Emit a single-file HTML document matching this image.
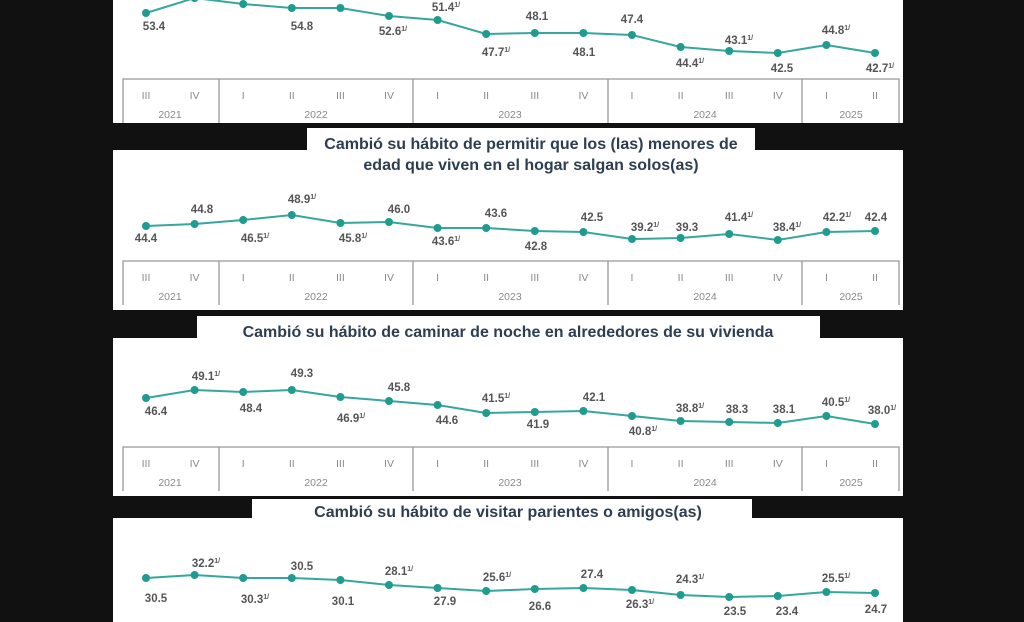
<!DOCTYPE html>
<html><head><meta charset="utf-8"><style>
html,body{margin:0;padding:0;background:#111;}
svg{display:block;}
.l{font:bold 11.5px "Liberation Sans",sans-serif;fill:#555;text-anchor:middle;}
.s{font-size:7px;}
.t{font:bold 16px "Liberation Sans",sans-serif;fill:#2c3e50;text-anchor:middle;}
.a{font:10.5px "Liberation Sans",sans-serif;fill:#888;text-anchor:middle;}
.ln{fill:none;stroke:#35a79d;stroke-width:2;}
.d{fill:#1f9b8f;}
.bx{fill:none;stroke:#999;stroke-width:1.3;}
</style></head><body>
<svg width="1024" height="622" viewBox="0 0 1024 622" xmlns="http://www.w3.org/2000/svg">
<rect width="1024" height="622" fill="#111"/>
<rect x="113" y="0" width="790" height="123" fill="#fff"/>
<rect x="307" y="128" width="448" height="24" fill="#fff"/>
<rect x="113" y="150" width="790" height="160" fill="#fff"/>
<rect x="197" y="316" width="623" height="24" fill="#fff"/>
<rect x="113" y="338" width="790" height="158" fill="#fff"/>
<rect x="252" y="499" width="500" height="22" fill="#fff"/>
<rect x="113" y="518" width="790" height="104" fill="#fff"/>

<text class="t" x="531" y="149">Cambió su hábito de permitir que los (las) menores de</text>
<text class="t" x="531" y="170">edad que viven en el hogar salgan solos(as)</text>
<text class="t" x="508" y="337">Cambió su hábito de caminar de noche en alrededores de su vivienda</text>
<text class="t" x="508" y="517">Cambió su hábito de visitar parientes o amigos(as)</text>

<g><path class="bx" d="M123,123 V79 H899 V123 M219,79 V123 M413,79 V123 M608,79 V123 M802,79 V123"/>
<g class="a">
<text x="146" y="99">III</text><text x="194.6" y="99">IV</text><text x="243.2" y="99">I</text><text x="291.8" y="99">II</text><text x="340.4" y="99">III</text><text x="389" y="99">IV</text><text x="437.6" y="99">I</text><text x="486.2" y="99">II</text><text x="534.8" y="99">III</text><text x="583.4" y="99">IV</text><text x="632" y="99">I</text><text x="680.6" y="99">II</text><text x="729.2" y="99">III</text><text x="777.8" y="99">IV</text><text x="826.4" y="99">I</text><text x="875" y="99">II</text>
<text x="170" y="118">2021</text><text x="316" y="118">2022</text><text x="510" y="118">2023</text><text x="705" y="118">2024</text><text x="851" y="118">2025</text>
</g></g>
<g transform="translate(0,182)"><path class="bx" d="M123,123 V79 H899 V123 M219,79 V123 M413,79 V123 M608,79 V123 M802,79 V123"/>
<g class="a">
<text x="146" y="99">III</text><text x="194.6" y="99">IV</text><text x="243.2" y="99">I</text><text x="291.8" y="99">II</text><text x="340.4" y="99">III</text><text x="389" y="99">IV</text><text x="437.6" y="99">I</text><text x="486.2" y="99">II</text><text x="534.8" y="99">III</text><text x="583.4" y="99">IV</text><text x="632" y="99">I</text><text x="680.6" y="99">II</text><text x="729.2" y="99">III</text><text x="777.8" y="99">IV</text><text x="826.4" y="99">I</text><text x="875" y="99">II</text>
<text x="170" y="118">2021</text><text x="316" y="118">2022</text><text x="510" y="118">2023</text><text x="705" y="118">2024</text><text x="851" y="118">2025</text>
</g></g>
<g transform="translate(0,368)"><path class="bx" d="M123,123 V79 H899 V123 M219,79 V123 M413,79 V123 M608,79 V123 M802,79 V123"/>
<g class="a">
<text x="146" y="99">III</text><text x="194.6" y="99">IV</text><text x="243.2" y="99">I</text><text x="291.8" y="99">II</text><text x="340.4" y="99">III</text><text x="389" y="99">IV</text><text x="437.6" y="99">I</text><text x="486.2" y="99">II</text><text x="534.8" y="99">III</text><text x="583.4" y="99">IV</text><text x="632" y="99">I</text><text x="680.6" y="99">II</text><text x="729.2" y="99">III</text><text x="777.8" y="99">IV</text><text x="826.4" y="99">I</text><text x="875" y="99">II</text>
<text x="170" y="118">2021</text><text x="316" y="118">2022</text><text x="510" y="118">2023</text><text x="705" y="118">2024</text><text x="851" y="118">2025</text>
</g></g>

<polyline class="ln" points="146,13 194.6,-2 243.2,4 291.8,8 340.4,8 389,16 437.6,20 486.2,34 534.8,33 583.4,33 632,35 680.6,47 729.2,51 777.8,53 826.4,45 875,53"/>
<g class="d"><circle cx="146" cy="13" r="4"/><circle cx="194.6" cy="-2" r="4"/><circle cx="243.2" cy="4" r="4"/><circle cx="291.8" cy="8" r="4"/><circle cx="340.4" cy="8" r="4"/><circle cx="389" cy="16" r="4"/><circle cx="437.6" cy="20" r="4"/><circle cx="486.2" cy="34" r="4"/><circle cx="534.8" cy="33" r="4"/><circle cx="583.4" cy="33" r="4"/><circle cx="632" cy="35" r="4"/><circle cx="680.6" cy="47" r="4"/><circle cx="729.2" cy="51" r="4"/><circle cx="777.8" cy="53" r="4"/><circle cx="826.4" cy="45" r="4"/><circle cx="875" cy="53" r="4"/></g>
<g class="l">
<text x="154" y="30">53.4</text><text x="302" y="30">54.8</text><text x="393" y="35">52.6<tspan class="s" dy="-4">1/</tspan></text>
<text x="446" y="11">51.4<tspan class="s" dy="-4">1/</tspan></text><text x="496" y="56">47.7<tspan class="s" dy="-4">1/</tspan></text>
<text x="537" y="20">48.1</text><text x="584" y="56">48.1</text><text x="632" y="23">47.4</text>
<text x="690" y="67">44.4<tspan class="s" dy="-4">1/</tspan></text><text x="739" y="44">43.1<tspan class="s" dy="-4">1/</tspan></text>
<text x="782" y="72">42.5</text><text x="836" y="34">44.8<tspan class="s" dy="-4">1/</tspan></text><text x="880" y="72">42.7<tspan class="s" dy="-4">1/</tspan></text>
</g>

<polyline class="ln" points="146,226 194.6,224 243.2,220 291.8,215 340.4,223 389,222 437.6,228 486.2,228 534.8,231 583.4,232 632,239 680.6,238 729.2,234 777.8,240 826.4,232 875,231"/>
<g class="d"><circle cx="146" cy="226" r="4"/><circle cx="194.6" cy="224" r="4"/><circle cx="243.2" cy="220" r="4"/><circle cx="291.8" cy="215" r="4"/><circle cx="340.4" cy="223" r="4"/><circle cx="389" cy="222" r="4"/><circle cx="437.6" cy="228" r="4"/><circle cx="486.2" cy="228" r="4"/><circle cx="534.8" cy="231" r="4"/><circle cx="583.4" cy="232" r="4"/><circle cx="632" cy="239" r="4"/><circle cx="680.6" cy="238" r="4"/><circle cx="729.2" cy="234" r="4"/><circle cx="777.8" cy="240" r="4"/><circle cx="826.4" cy="232" r="4"/><circle cx="875" cy="231" r="4"/></g>
<g class="l">
<text x="146" y="242">44.4</text><text x="202" y="213">44.8</text><text x="255" y="242">46.5<tspan class="s" dy="-4">1/</tspan></text>
<text x="302" y="203">48.9<tspan class="s" dy="-4">1/</tspan></text><text x="353" y="242">45.8<tspan class="s" dy="-4">1/</tspan></text>
<text x="399" y="213">46.0</text><text x="446" y="245">43.6<tspan class="s" dy="-4">1/</tspan></text><text x="496" y="217">43.6</text>
<text x="536" y="250">42.8</text><text x="592" y="221">42.5</text><text x="645" y="231">39.2<tspan class="s" dy="-4">1/</tspan></text>
<text x="687" y="231">39.3</text><text x="739" y="221">41.4<tspan class="s" dy="-4">1/</tspan></text><text x="787" y="231">38.4<tspan class="s" dy="-4">1/</tspan></text>
<text x="837" y="221">42.2<tspan class="s" dy="-4">1/</tspan></text><text x="876" y="221">42.4</text>
</g>

<polyline class="ln" points="146,398 194.6,390 243.2,392 291.8,390 340.4,397 389,401 437.6,405 486.2,413 534.8,412 583.4,411 632,416 680.6,421 729.2,422 777.8,423 826.4,416 875,424"/>
<g class="d"><circle cx="146" cy="398" r="4"/><circle cx="194.6" cy="390" r="4"/><circle cx="243.2" cy="392" r="4"/><circle cx="291.8" cy="390" r="4"/><circle cx="340.4" cy="397" r="4"/><circle cx="389" cy="401" r="4"/><circle cx="437.6" cy="405" r="4"/><circle cx="486.2" cy="413" r="4"/><circle cx="534.8" cy="412" r="4"/><circle cx="583.4" cy="411" r="4"/><circle cx="632" cy="416" r="4"/><circle cx="680.6" cy="421" r="4"/><circle cx="729.2" cy="422" r="4"/><circle cx="777.8" cy="423" r="4"/><circle cx="826.4" cy="416" r="4"/><circle cx="875" cy="424" r="4"/></g>
<g class="l">
<text x="156" y="415">46.4</text><text x="206" y="380">49.1<tspan class="s" dy="-4">1/</tspan></text><text x="251" y="412">48.4</text>
<text x="302" y="377">49.3</text><text x="351" y="422">46.9<tspan class="s" dy="-4">1/</tspan></text><text x="399" y="391">45.8</text>
<text x="447" y="424">44.6</text><text x="496" y="402">41.5<tspan class="s" dy="-4">1/</tspan></text><text x="538" y="428">41.9</text>
<text x="594" y="401">42.1</text><text x="643" y="435">40.8<tspan class="s" dy="-4">1/</tspan></text><text x="690" y="412">38.8<tspan class="s" dy="-4">1/</tspan></text>
<text x="737" y="413">38.3</text><text x="784" y="413">38.1</text><text x="836" y="406">40.5<tspan class="s" dy="-4">1/</tspan></text><text x="882" y="414">38.0<tspan class="s" dy="-4">1/</tspan></text>
</g>

<polyline class="ln" points="146,578 194.6,575 243.2,578 291.8,578 340.4,580 389,585 437.6,588 486.2,591 534.8,589 583.4,588 632,590 680.6,595 729.2,597 777.8,596 826.4,592 875,593"/>
<g class="d"><circle cx="146" cy="578" r="4"/><circle cx="194.6" cy="575" r="4"/><circle cx="243.2" cy="578" r="4"/><circle cx="291.8" cy="578" r="4"/><circle cx="340.4" cy="580" r="4"/><circle cx="389" cy="585" r="4"/><circle cx="437.6" cy="588" r="4"/><circle cx="486.2" cy="591" r="4"/><circle cx="534.8" cy="589" r="4"/><circle cx="583.4" cy="588" r="4"/><circle cx="632" cy="590" r="4"/><circle cx="680.6" cy="595" r="4"/><circle cx="729.2" cy="597" r="4"/><circle cx="777.8" cy="596" r="4"/><circle cx="826.4" cy="592" r="4"/><circle cx="875" cy="593" r="4"/></g>
<g class="l">
<text x="156" y="602">30.5</text><text x="206" y="567">32.2<tspan class="s" dy="-4">1/</tspan></text><text x="255" y="603">30.3<tspan class="s" dy="-4">1/</tspan></text>
<text x="302" y="570">30.5</text><text x="343" y="605">30.1</text><text x="399" y="575">28.1<tspan class="s" dy="-4">1/</tspan></text>
<text x="445" y="605">27.9</text><text x="497" y="581">25.6<tspan class="s" dy="-4">1/</tspan></text><text x="540" y="610">26.6</text>
<text x="592" y="578">27.4</text><text x="640" y="608">26.3<tspan class="s" dy="-4">1/</tspan></text><text x="690" y="583">24.3<tspan class="s" dy="-4">1/</tspan></text>
<text x="735" y="615">23.5</text><text x="787" y="615">23.4</text><text x="836" y="582">25.5<tspan class="s" dy="-4">1/</tspan></text><text x="876" y="613">24.7</text>
</g>
</svg>
</body></html>
